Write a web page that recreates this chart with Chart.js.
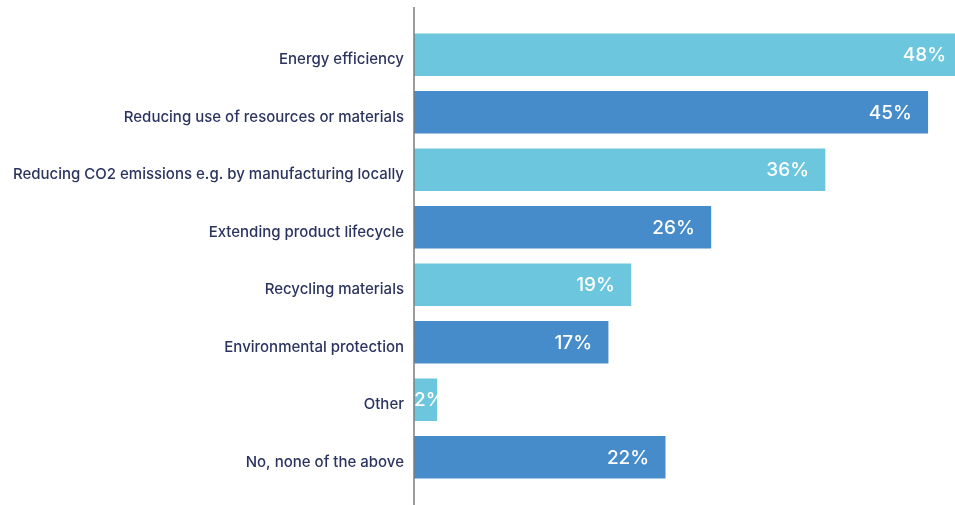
<!DOCTYPE html>
<html>
<head>
<meta charset="utf-8">
<script src="https://cdn.jsdelivr.net/npm/chart.js@4.4.0/dist/chart.umd.min.js"></script>
<style>
  html, body { margin: 0; padding: 0; background: #ffffff; overflow: hidden; }
  #wrap { width: 962px; height: 505px; }
</style>
</head>
<body>
<div id="wrap"><canvas id="c" width="962" height="505"></canvas></div>
<script>
const categories = [
  'Energy efficiency',
  'Reducing use of resources or materials',
  'Reducing CO2 emissions e.g. by manufacturing locally',
  'Extending product lifecycle',
  'Recycling materials',
  'Environmental protection',
  'Other',
  'No, none of the above'
];
const shares = [48, 45, 36, 26, 19, 17, 2, 22];
const barColors = ['#6bc6de', '#468bca', '#6bc6de', '#468bca', '#6bc6de', '#468bca', '#6bc6de', '#468bca'];

const FONT = 'Inter, "Noto Sans", sans-serif';

// Vertical baseline at zero, running the full height of the canvas
const baseline = {
  id: 'baseline',
  afterDatasetsDraw(chart) {
    const { ctx, scales } = chart;
    const x = Math.round(scales.x.getPixelForValue(0));
    ctx.save();
    ctx.strokeStyle = '#7c7c7c';
    ctx.lineWidth = 1.5;
    ctx.beginPath();
    ctx.moveTo(x, 7);
    ctx.lineTo(x, 505);
    ctx.stroke();
    ctx.restore();
  }
};

// Percentage labels inside the bar ends
const valueLabels = {
  id: 'valueLabels',
  afterDatasetsDraw(chart) {
    const { ctx } = chart;
    const meta = chart.getDatasetMeta(0);
    ctx.save();
    ctx.font = '500 19px ' + FONT;
    ctx.fillStyle = '#ffffff';
    ctx.textAlign = 'right';
    ctx.textBaseline = 'middle';
    meta.data.forEach((bar, i) => {
      const text = shares[i] + '%';
      const w = ctx.measureText(text).width;
      const right = Math.max(bar.x - 16, bar.base + w);
      ctx.fillText(text, right, bar.y + 1);
    });
    ctx.restore();
  }
};

new Chart(document.getElementById('c'), {
  type: 'bar',
  data: {
    labels: categories,
    datasets: [{
      data: shares,
      backgroundColor: barColors,
      borderWidth: 0,
      barThickness: 42
    }]
  },
  options: {
    indexAxis: 'y',
    responsive: false,
    animation: false,
    layout: { padding: { top: 26, bottom: 19, left: 0, right: 0 } },
    plugins: {
      legend: { display: false },
      tooltip: { enabled: false }
    },
    scales: {
      x: {
        display: false,
        min: 0,
        max: 48
      },
      y: {
        afterFit(scale) { scale.width = 414; },
        grid: { display: false, drawTicks: false },
        border: { display: false },
        ticks: {
          padding: 10,
          labelOffset: 5,
          color: '#2b3460',
          font: { family: FONT, size: 15, weight: '500' }
        }
      }
    }
  },
  plugins: [baseline, valueLabels]
});
</script>
</body>
</html>
